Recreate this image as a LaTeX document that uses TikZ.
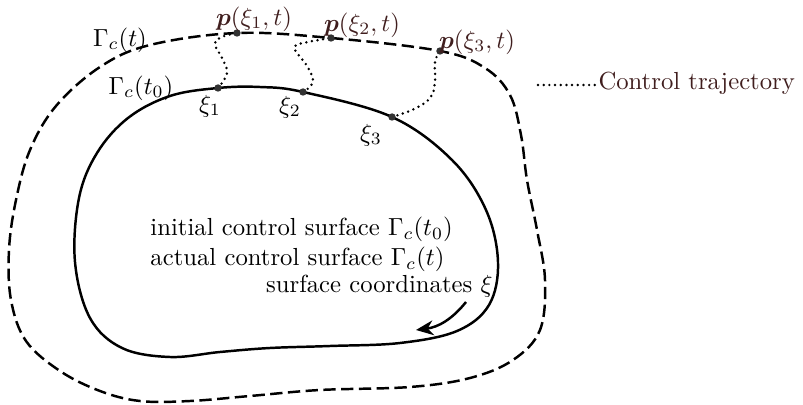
\documentclass[tikz,border=0pt]{standalone}
\usepackage{amsmath,amssymb,bm}
\usetikzlibrary{arrows.meta}
\definecolor{lbl}{RGB}{64,30,30}
\definecolor{dotc}{RGB}{50,50,50}
\begin{document}
\begin{tikzpicture}[x=0.405pt,y=-0.405pt,
  surf/.style={line width=1pt,line join=round},
  moved/.style={line width=1pt,dash pattern=on 5pt off 2.2pt},
  traj/.style={line width=1.1pt,line cap=round,dash pattern=on 0pt off 2.3pt},
  pt/.style={circle,fill=dotc,inner sep=0pt,minimum size=3pt},
  lab/.style={inner sep=1pt,font=\normalsize},
  plab/.style={inner sep=1pt,text=lbl}]
\useasboundingbox (0,0) rectangle (803,405);
% points on the curves
\coordinate (x1) at (218,88);
\coordinate (x2) at (303,92);
\coordinate (x3) at (392,117);
\coordinate (p1) at (237,33);
\coordinate (p2) at (331,38);
\coordinate (p3) at (440,51);
% initial control surface
\draw[surf] plot[smooth cycle,tension=0.6] coordinates {
 (x1) (260,87) (x2) (x3) (452,160) (486,210) (498,262) (489,305) (457,331)
 (400,343) (330,346) (270,348) (220,352) (170,357) (122,348) (90,318)
 (75,262) (79,198) (97,153) (128,118) (170,96)};
% actual control surface
\draw[moved] plot[smooth cycle,tension=0.6] coordinates {
 (p1) (p2) (p3) (485,68) (510,95) (521,135) (527,180) (537,230) (545,280)
 (540,330) (513,360) (470,378) (410,387) (320,390) (250,396) (190,401)
 (140,401) (100,391) (60,371) (26,341) (11,300) (9,250) (16,200) (30,150)
 (56,106) (100,67) (150,45)};
% control trajectories
\draw[traj] plot[smooth,tension=0.7] coordinates {(x1) (227,73) (222,58) (215,44) (222,37) (p1)};
\draw[traj] plot[smooth,tension=0.7] coordinates {(x2) (313,82) (307,66) (297,53) (295,46) (308,42) (p2)};
\draw[traj] plot[smooth,tension=0.7] coordinates {(x3) (414,109) (430,98) (435,82) (435,62) (p3)};
% dots
\node[pt] (d1) at (x1) {};
\node[pt] (d2) at (x2) {};
\node[pt] (d3) at (x3) {};
\node[pt] (e1) at (p1) {};
\node[pt] (e2) at (p2) {};
\node[pt] (e3) at (p3) {};
% labels
\node[lab] (gt) at (120,40) {$\Gamma_c(t)$};
\node[lab] (gt0) at (141,88) {$\Gamma_c(t_0)$};
\node[lab] (l1) at (210,106) {$\xi_1$};
\node[lab] (l2) at (290,107) {$\xi_2$};
\node[lab] (l3) at (371,135) {$\xi_3$};
\node[plab] (q1) at (254,19) {$\boldsymbol{p}(\xi_1,t)$};
\node[plab] (q2) at (362,25) {$\boldsymbol{p}(\xi_2,t)$};
\node[plab] (q3) at (477,42) {$\boldsymbol{p}(\xi_3,t)$};
% legend
\node[plab,anchor=west,inner sep=0pt] (leg) at (598,83) {Control trajectory};
\coordinate (legs) at (538,85);
\draw[traj] (legs) -- (leg.west |- legs);
% centre text
\node[anchor=base west,inner sep=0pt] (t1) at (150,236) {initial control surface $\Gamma_c(t_0)$};
\node[anchor=base west,inner sep=0pt] (t2) at (150,266) {actual control surface $\Gamma_c(t)$};
\node[anchor=base east,inner sep=0pt] (t3) at (493,293) {surface coordinates $\xi$};
% direction arrow
\coordinate (as) at (466,302);
\coordinate (ae) at (416,330);
\draw[line width=1pt,-{Stealth[length=7pt,width=6pt]}] (as) to[bend left=22] (ae);
\end{tikzpicture}
\end{document}
